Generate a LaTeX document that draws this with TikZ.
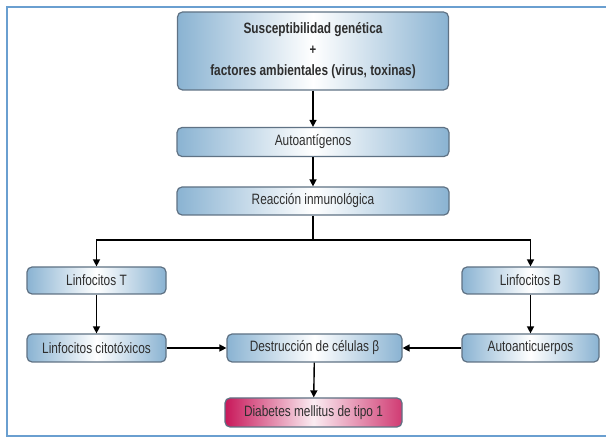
\documentclass[tikz,border=0pt]{standalone}
\usepackage{fontspec}
\setmainfont{Liberation Sans}[FakeStretch=0.79]
\usetikzlibrary{arrows.meta,shadows}
\definecolor{boxblue}{HTML}{8AB3D2}
\definecolor{boxline}{HTML}{5F7284}
\definecolor{framblue}{HTML}{6A9FD0}
\definecolor{diabred}{HTML}{C8185A}
\definecolor{txtgray}{HTML}{2E2E2E}
\begin{document}
\begin{tikzpicture}[x=1pt,y=-1pt,
    caja/.style={draw=boxline,line width=1.2pt,rounded corners=5pt,
      left color=boxblue,right color=boxblue,middle color=white,
      text=txtgray,font=\fontsize{15}{17}\selectfont,inner sep=0pt},
    cajaroja/.style={caja,left color=diabred,right color=diabred!85,middle color=diabred!8},
    flecha/.style={line width=1.4pt,-{Triangle[length=7pt,width=7pt]}}]
  \useasboundingbox (0,0) rectangle (606,438);
  % marco
  \draw [framblue,line width=2pt] (606,7) -- (7,7) -- (7,436) -- (606,436);
  % cajas
  \node [caja,minimum width=271pt,minimum height=78pt,align=center,
    font=\fontsize{15}{21}\bfseries] (gen) at (313,51)
    {Susceptibilidad genética\\{\Large +}\\factores ambientales (virus, toxinas)};
  \node [caja,minimum width=272pt,minimum height=29pt] (auto) at (313,142) {Autoantígenos};
  \node [caja,minimum width=272pt,minimum height=28pt] (reac) at (313,201) {Reacción inmunológica};
  \node [caja,minimum width=139pt,minimum height=27pt] (linT) at (96.5,280.5) {Linfocitos T};
  \node [caja,minimum width=137pt,minimum height=27pt] (linB) at (530.5,280.5) {Linfocitos B};
  \node [caja,minimum width=139pt,minimum height=28pt] (cito) at (96.5,348) {Linfocitos citotóxicos};
  \node [caja,minimum width=175pt,minimum height=28pt] (dest) at (314.5,348) {Destrucción de células β};
  \node [caja,minimum width=137pt,minimum height=28pt] (anti) at (530.5,348) {Autoanticuerpos};
  \node [cajaroja,minimum width=177pt,minimum height=29pt] (diab) at (313.5,412.5) {Diabetes mellitus de tipo 1};
  % flechas
  \coordinate (rama) at (313,240);
  \draw [flecha] (gen) -- (auto);
  \draw [flecha] (auto) -- (reac);
  \draw [line width=1.4pt] (reac) -- (rama);
  \draw [flecha] (rama) -| (linT);
  \draw [flecha] (rama) -| (linB);
  \draw [flecha] (linT) -- (cito);
  \draw [flecha] (linB) -- (anti);
  \draw [flecha] (cito) -- (dest);
  \draw [flecha] (anti) -- (dest);
  \draw [flecha] (dest) -- (diab);
\end{tikzpicture}
\end{document}
